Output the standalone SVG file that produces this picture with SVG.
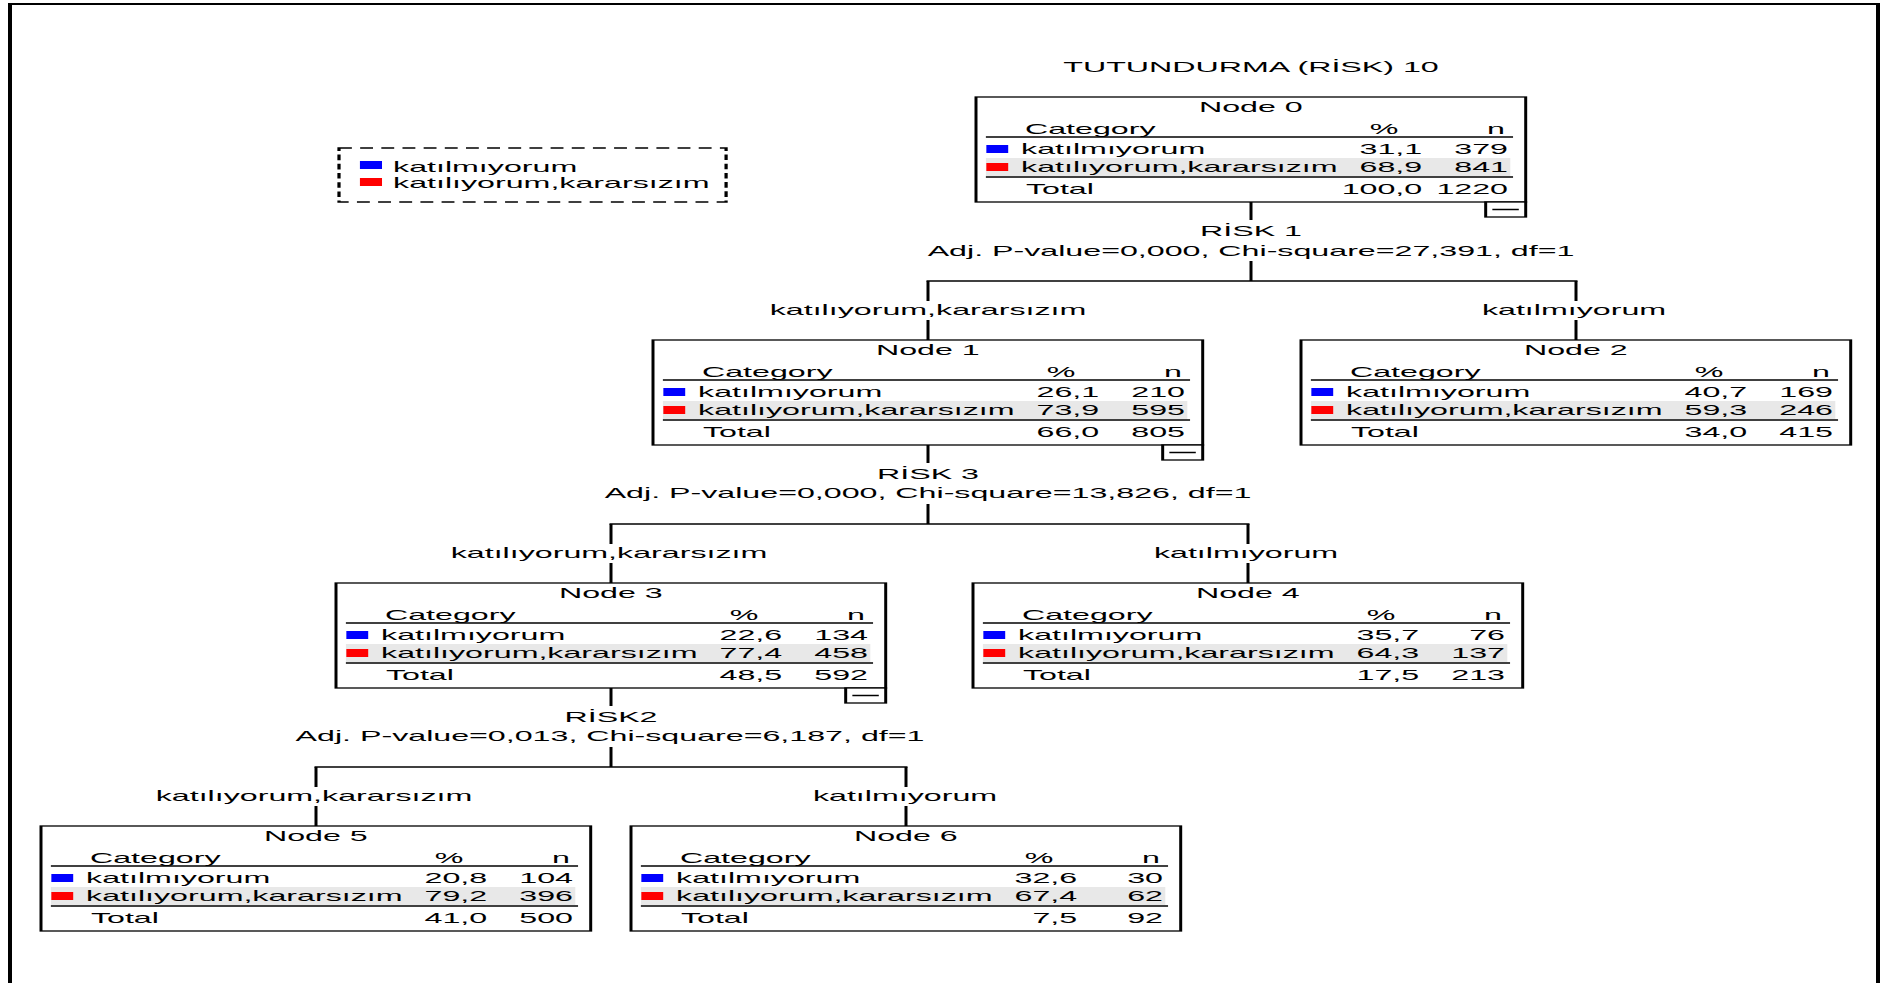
<svg xmlns="http://www.w3.org/2000/svg" xmlns:xlink="http://www.w3.org/1999/xlink" width="1885" height="983" viewBox="0 0 1885 983">
  <style>
    .t { font-family: "Liberation Sans", Arial, sans-serif; font-size: 14px; fill: #000; }
    .mid { text-anchor: middle; }
    .end { text-anchor: end; }
    .frame { fill: #fff; stroke: #000; stroke-width: 1.3; }
    .rule { stroke: #000; stroke-width: 1.5; }
    .band { fill: #e8e8e8; }
    .blue { fill: #0000ff; }
    .red { fill: #ff0000; }
    .cv { stroke: #000; stroke-width: 3; }
    .ch { stroke: #000; stroke-width: 1.6; }
    .dash { stroke: #000; stroke-width: 1.4; stroke-dasharray: 5.6 3.6; fill: none; }
  </style>
  <defs>
    <!-- node body in horizontally compressed units (group is scaled 2.3 x 1) -->
    <g id="node-body">
      <rect class="frame" x="0" y="0" width="239" height="105"/>
      <line class="rule" x1="4.3" y1="40" x2="233.5" y2="40"/>
      <rect class="band" x="4.3" y="61" width="228" height="18"/>
      <line class="rule" x1="4.3" y1="80" x2="233.5" y2="80"/>
      <rect class="blue" x="4.5" y="48" width="9.5" height="8"/>
      <rect class="red" x="4.5" y="66" width="9.5" height="8"/>
    </g>
    <g id="collapse">
      <rect class="frame" x="221.6" y="105" width="17.4" height="15"/>
      <line class="rule" x1="224.5" y1="112.5" x2="236" y2="112.5"/>
    </g>
  </defs>

  <rect width="1885" height="983" fill="#fff"/>
  <!-- page frame -->
  <path transform="scale(2 1)" d="M5 983 V4 H939 V983" fill="none" stroke="#000" stroke-width="2"/>

  <text class="t mid" transform="matrix(2.3 0 0 1 1251 72)">TUTUNDURMA (RİSK) 10</text>

  <!-- legend -->
  <g id="legend" transform="translate(339 148) scale(2.3 1)">
    <rect class="dash" x="0" y="0" width="168.3" height="54"/>
    <rect class="blue" x="9.1" y="13" width="9.6" height="8"/>
    <rect class="red" x="9.1" y="30" width="9.6" height="8"/>
    <text class="t" x="23.5" y="24">katılmıyorum</text>
    <text class="t" x="23.5" y="40">katılıyorum,kararsızım</text>
  </g>

  <!-- connectors -->
  <g id="connectors">
    <line class="cv" x1="1251" y1="202" x2="1251" y2="220"/>
    <line class="cv" x1="1251" y1="261" x2="1251" y2="281"/>
    <line class="ch" x1="926.5" y1="281" x2="1577.5" y2="281"/>
    <line class="cv" x1="928" y1="281" x2="928" y2="301"/>
    <line class="cv" x1="928" y1="320" x2="928" y2="340"/>
    <line class="cv" x1="1576" y1="281" x2="1576" y2="301"/>
    <line class="cv" x1="1576" y1="320" x2="1576" y2="340"/>

    <line class="cv" x1="928" y1="445" x2="928" y2="463"/>
    <line class="cv" x1="928" y1="504" x2="928" y2="524"/>
    <line class="ch" x1="609.5" y1="524" x2="1249.5" y2="524"/>
    <line class="cv" x1="611" y1="524" x2="611" y2="544"/>
    <line class="cv" x1="611" y1="563" x2="611" y2="583"/>
    <line class="cv" x1="1248" y1="524" x2="1248" y2="544"/>
    <line class="cv" x1="1248" y1="563" x2="1248" y2="583"/>

    <line class="cv" x1="611" y1="688" x2="611" y2="706"/>
    <line class="cv" x1="611" y1="747" x2="611" y2="767"/>
    <line class="ch" x1="314.5" y1="767" x2="907.5" y2="767"/>
    <line class="cv" x1="316" y1="767" x2="316" y2="787"/>
    <line class="cv" x1="316" y1="806" x2="316" y2="826"/>
    <line class="cv" x1="906" y1="767" x2="906" y2="787"/>
    <line class="cv" x1="906" y1="806" x2="906" y2="826"/>

    <text class="t mid" transform="matrix(2.3 0 0 1 1251 236)">RİSK 1</text>
    <text class="t mid" transform="matrix(2.3 0 0 1 1251 256)">Adj. P-value=0,000, Chi-square=27,391, df=1</text>
    <text class="t mid" transform="matrix(2.3 0 0 1 928 315)">katılıyorum,kararsızım</text>
    <text class="t mid" transform="matrix(2.3 0 0 1 1574 315)">katılmıyorum</text>

    <text class="t mid" transform="matrix(2.3 0 0 1 928 479)">RİSK 3</text>
    <text class="t mid" transform="matrix(2.3 0 0 1 928 498)">Adj. P-value=0,000, Chi-square=13,826, df=1</text>
    <text class="t mid" transform="matrix(2.3 0 0 1 609 558)">katılıyorum,kararsızım</text>
    <text class="t mid" transform="matrix(2.3 0 0 1 1246 558)">katılmıyorum</text>

    <text class="t mid" transform="matrix(2.3 0 0 1 611 722)">RİSK2</text>
    <text class="t mid" transform="matrix(2.3 0 0 1 610 741)">Adj. P-value=0,013, Chi-square=6,187, df=1</text>
    <text class="t mid" transform="matrix(2.3 0 0 1 314 801)">katılıyorum,kararsızım</text>
    <text class="t mid" transform="matrix(2.3 0 0 1 905 801)">katılmıyorum</text>
  </g>

  <!-- Node 0 -->
  <g id="node0" transform="translate(976 97) scale(2.3 1)">
    <use xlink:href="#node-body"/>
    <use xlink:href="#collapse"/>
    <text class="t mid" x="119.5" y="15">Node 0</text>
    <text class="t" x="21.3" y="37">Category</text>
    <text class="t mid" x="177.4" y="37">%</text>
    <text class="t end" x="230" y="37">n</text>
    <text class="t" x="19.6" y="57">katılmıyorum</text>
    <text class="t end" x="194" y="57">31,1</text>
    <text class="t end" x="231.3" y="57">379</text>
    <text class="t" x="19.6" y="75">katılıyorum,kararsızım</text>
    <text class="t end" x="194" y="75">68,9</text>
    <text class="t end" x="231.3" y="75">841</text>
    <text class="t" x="21.7" y="97">Total</text>
    <text class="t end" x="194" y="97">100,0</text>
    <text class="t end" x="231.3" y="97">1220</text>
  </g>

  <!-- Node 1 -->
  <g id="node1" transform="translate(653 340) scale(2.3 1)">
    <use xlink:href="#node-body"/>
    <use xlink:href="#collapse"/>
    <text class="t mid" x="119.5" y="15">Node 1</text>
    <text class="t" x="21.3" y="37">Category</text>
    <text class="t mid" x="177.4" y="37">%</text>
    <text class="t end" x="230" y="37">n</text>
    <text class="t" x="19.6" y="57">katılmıyorum</text>
    <text class="t end" x="194" y="57">26,1</text>
    <text class="t end" x="231.3" y="57">210</text>
    <text class="t" x="19.6" y="75">katılıyorum,kararsızım</text>
    <text class="t end" x="194" y="75">73,9</text>
    <text class="t end" x="231.3" y="75">595</text>
    <text class="t" x="21.7" y="97">Total</text>
    <text class="t end" x="194" y="97">66,0</text>
    <text class="t end" x="231.3" y="97">805</text>
  </g>

  <!-- Node 2 -->
  <g id="node2" transform="translate(1301 340) scale(2.3 1)">
    <use xlink:href="#node-body"/>
    <text class="t mid" x="119.5" y="15">Node 2</text>
    <text class="t" x="21.3" y="37">Category</text>
    <text class="t mid" x="177.4" y="37">%</text>
    <text class="t end" x="230" y="37">n</text>
    <text class="t" x="19.6" y="57">katılmıyorum</text>
    <text class="t end" x="194" y="57">40,7</text>
    <text class="t end" x="231.3" y="57">169</text>
    <text class="t" x="19.6" y="75">katılıyorum,kararsızım</text>
    <text class="t end" x="194" y="75">59,3</text>
    <text class="t end" x="231.3" y="75">246</text>
    <text class="t" x="21.7" y="97">Total</text>
    <text class="t end" x="194" y="97">34,0</text>
    <text class="t end" x="231.3" y="97">415</text>
  </g>

  <!-- Node 3 -->
  <g id="node3" transform="translate(336 583) scale(2.3 1)">
    <use xlink:href="#node-body"/>
    <use xlink:href="#collapse"/>
    <text class="t mid" x="119.5" y="15">Node 3</text>
    <text class="t" x="21.3" y="37">Category</text>
    <text class="t mid" x="177.4" y="37">%</text>
    <text class="t end" x="230" y="37">n</text>
    <text class="t" x="19.6" y="57">katılmıyorum</text>
    <text class="t end" x="194" y="57">22,6</text>
    <text class="t end" x="231.3" y="57">134</text>
    <text class="t" x="19.6" y="75">katılıyorum,kararsızım</text>
    <text class="t end" x="194" y="75">77,4</text>
    <text class="t end" x="231.3" y="75">458</text>
    <text class="t" x="21.7" y="97">Total</text>
    <text class="t end" x="194" y="97">48,5</text>
    <text class="t end" x="231.3" y="97">592</text>
  </g>

  <!-- Node 4 -->
  <g id="node4" transform="translate(973 583) scale(2.3 1)">
    <use xlink:href="#node-body"/>
    <text class="t mid" x="119.5" y="15">Node 4</text>
    <text class="t" x="21.3" y="37">Category</text>
    <text class="t mid" x="177.4" y="37">%</text>
    <text class="t end" x="230" y="37">n</text>
    <text class="t" x="19.6" y="57">katılmıyorum</text>
    <text class="t end" x="194" y="57">35,7</text>
    <text class="t end" x="231.3" y="57">76</text>
    <text class="t" x="19.6" y="75">katılıyorum,kararsızım</text>
    <text class="t end" x="194" y="75">64,3</text>
    <text class="t end" x="231.3" y="75">137</text>
    <text class="t" x="21.7" y="97">Total</text>
    <text class="t end" x="194" y="97">17,5</text>
    <text class="t end" x="231.3" y="97">213</text>
  </g>

  <!-- Node 5 -->
  <g id="node5" transform="translate(41 826) scale(2.3 1)">
    <use xlink:href="#node-body"/>
    <text class="t mid" x="119.5" y="15">Node 5</text>
    <text class="t" x="21.3" y="37">Category</text>
    <text class="t mid" x="177.4" y="37">%</text>
    <text class="t end" x="230" y="37">n</text>
    <text class="t" x="19.6" y="57">katılmıyorum</text>
    <text class="t end" x="194" y="57">20,8</text>
    <text class="t end" x="231.3" y="57">104</text>
    <text class="t" x="19.6" y="75">katılıyorum,kararsızım</text>
    <text class="t end" x="194" y="75">79,2</text>
    <text class="t end" x="231.3" y="75">396</text>
    <text class="t" x="21.7" y="97">Total</text>
    <text class="t end" x="194" y="97">41,0</text>
    <text class="t end" x="231.3" y="97">500</text>
  </g>

  <!-- Node 6 -->
  <g id="node6" transform="translate(631 826) scale(2.3 1)">
    <use xlink:href="#node-body"/>
    <text class="t mid" x="119.5" y="15">Node 6</text>
    <text class="t" x="21.3" y="37">Category</text>
    <text class="t mid" x="177.4" y="37">%</text>
    <text class="t end" x="230" y="37">n</text>
    <text class="t" x="19.6" y="57">katılmıyorum</text>
    <text class="t end" x="194" y="57">32,6</text>
    <text class="t end" x="231.3" y="57">30</text>
    <text class="t" x="19.6" y="75">katılıyorum,kararsızım</text>
    <text class="t end" x="194" y="75">67,4</text>
    <text class="t end" x="231.3" y="75">62</text>
    <text class="t" x="21.7" y="97">Total</text>
    <text class="t end" x="194" y="97">7,5</text>
    <text class="t end" x="231.3" y="97">92</text>
  </g>
</svg>
